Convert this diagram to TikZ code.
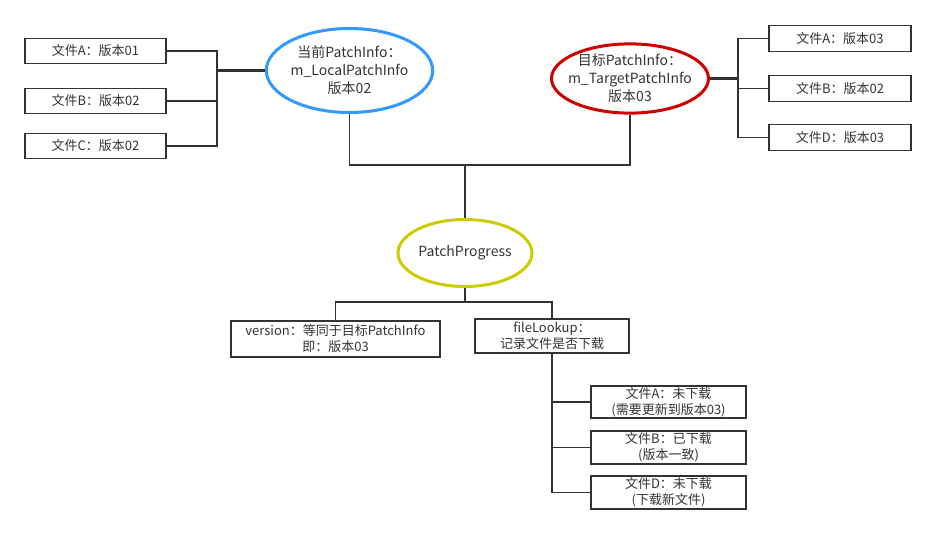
\documentclass[tikz,border=0pt]{standalone}
\usepackage{fontspec}
\setmainfont{Noto Sans CJK SC}
\usepackage{tikz}
\usetikzlibrary{shapes,calc,positioning}
\definecolor{txt}{HTML}{333333}
\definecolor{lblue}{HTML}{3399FF}
\definecolor{dred}{HTML}{CC0000}
\definecolor{dyel}{HTML}{CCCC00}
\tikzset{
	filebox/.style={draw=txt, line width=1.6pt, text=txt, inner sep=0pt, align=center, font=\fontsize{13}{16}\selectfont},
	infoell/.style={ellipse, draw=#1, line width=3pt, text=txt, inner sep=0pt, align=center, font=\fontsize{14}{18}\selectfont},
	link/.style={draw=txt, line width=1.6pt}
}

\begin{document}
\begin{tikzpicture}[x=1pt, y=-1pt]
				\useasboundingbox (0,0) rectangle (936,534);
				% patch info ellipses
				\node[infoell=lblue, minimum width=166, minimum height=84] (local) at (349.5,70.5) {当前PatchInfo：\\m\_LocalPatchInfo\\版本02};
				\node[infoell=dred, inner xsep=-12pt, minimum width=157, minimum height=68] (target) at (630,78.5) {目标PatchInfo：\\m\_TargetPatchInfo\\版本03};
				\node[infoell=dyel, minimum width=134, minimum height=67] (progress) at (465,253) {PatchProgress};
				% local files
				\node[filebox, minimum width=141, minimum height=25] (la) at (95.5,51) {文件A：版本01};
				\node[filebox, minimum width=141, minimum height=25] (lb) at (95.5,101) {文件B：版本02};
				\node[filebox, minimum width=141, minimum height=25] (lc) at (95.5,146) {文件C：版本02};
				% target files
				\node[filebox, minimum width=142, minimum height=26] (ta) at (840,38.5) {文件A：版本03};
				\node[filebox, minimum width=142, minimum height=26] (tb) at (840,88.5) {文件B：版本02};
				\node[filebox, minimum width=142, minimum height=26] (td) at (840,137.5) {文件D：版本03};
				% progress members
				\node[filebox, minimum width=209, minimum height=36] (ver) at (335.5,339) {version：等同于目标PatchInfo\\即：版本03};
				\node[filebox, minimum width=154, minimum height=34] (look) at (552,336) {fileLookup：\\记录文件是否下载};
				\node[filebox, minimum width=155, minimum height=32] (pa) at (668.5,402) {文件A：未下载\\(需要更新到版本03)};
				\node[filebox, minimum width=155, minimum height=33] (pb) at (668.5,447.5) {文件B：已下载\\(版本一致)};
				\node[filebox, minimum width=155, minimum height=33] (pd) at (668.5,492.5) {文件D：未下载\\(下载新文件)};
				% joints
				\coordinate (lj) at (217,70.5);
				\coordinate (tj) at (738,78.5);
				\coordinate (mj) at (465,165);
				\coordinate (bj) at (465,302);
				% connectors
				\draw[link, line width=2.6pt] (local.west) -- (lj);
				\draw[link] (la.east) -| (lj) |- (lc.east);
				\draw[link] (lb.east) -- (lb.east -| lj);
				\draw[link, line width=2.6pt] (target.east) -- (tj);
				\draw[link] (ta.west) -| (tj) |- (td.west);
				\draw[link] (tb.west) -- (tb.west -| tj);
				\draw[link] (local.south) |- (mj) -| (target.south);
				\draw[link] (mj) -- (progress.north);
				\draw[link] (progress.south) -- (bj);
				\draw[link] (ver.north) |- (bj) -| (look.north);
				\draw[link] (look.south) |- (pd.west);
				\draw[link] (look.south |- pa.west) -- (pa.west);
				\draw[link] (look.south |- pb.west) -- (pb.west);
\end{tikzpicture}
\end{document}
